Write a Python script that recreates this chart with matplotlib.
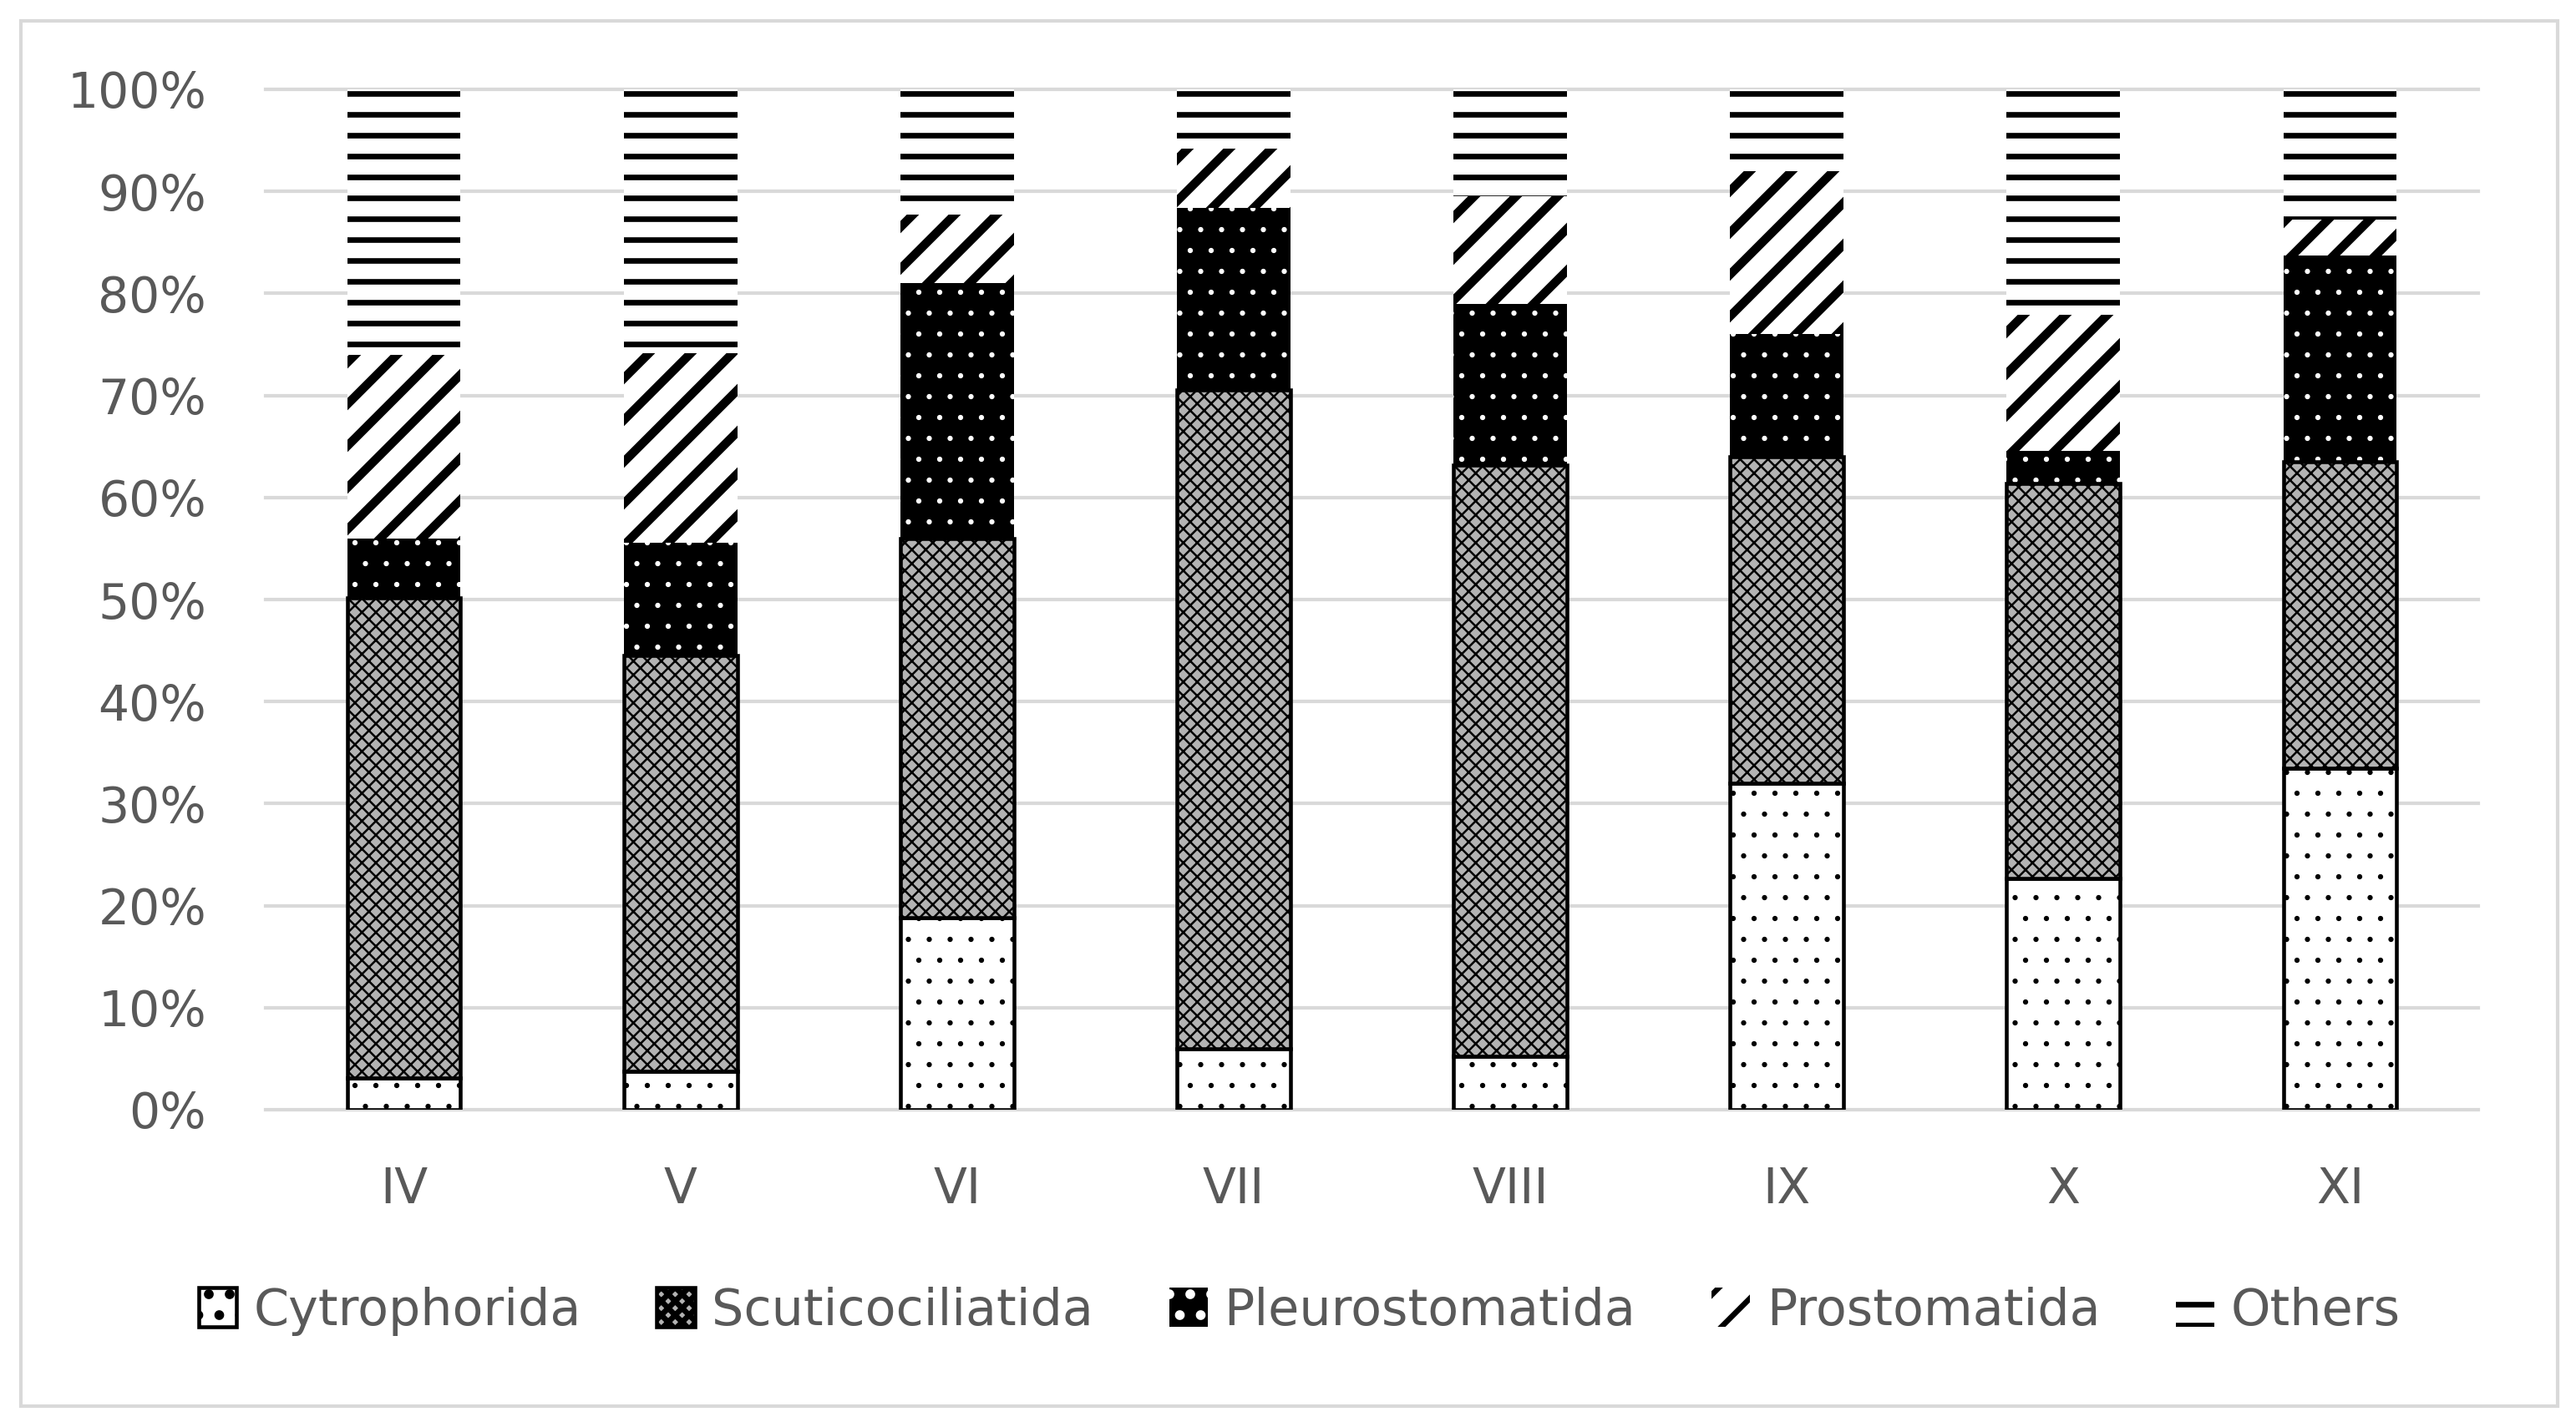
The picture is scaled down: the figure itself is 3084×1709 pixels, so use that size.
import numpy as np
import matplotlib.pyplot as plt
from matplotlib.patches import Patch, Rectangle
from matplotlib.legend_handler import HandlerTuple

months = ['IV', 'V', 'VI', 'VII', 'VIII', 'IX', 'X', 'XI']
cytrophorida = [3.1, 3.8, 18.8, 6.0, 5.2, 32.0, 22.7, 33.5]
scuticociliatida = [47.1, 40.7, 37.2, 64.5, 58.0, 32.0, 38.7, 30.0]
pleurostomatida = [5.8, 11.1, 25.0, 17.9, 15.8, 12.0, 3.2, 20.2]
prostomatida = [18.0, 18.5, 6.7, 5.8, 10.5, 16.0, 13.3, 3.5]
others = [26.0, 25.9, 12.3, 5.8, 10.5, 8.0, 22.1, 12.8]
labels = ['Cytrophorida', 'Scuticociliatida', 'Pleurostomatida', 'Prostomatida', 'Others']
yticks = [0, 10, 20, 30, 40, 50, 60, 70, 80, 90, 100]

gray = '#595959'
grid = '#d9d9d9'
scut_face = '#b3b3b3'


def hlw(artists, lw):
    # hatch line width per artist
    for a in artists:
        if hasattr(a, 'set_hatch_linewidth'):
            a.set_hatch_linewidth(lw)


fig = plt.figure(figsize=(3084 / 300, 1709 / 300), dpi=300)
ax = fig.add_axes([318 / 3084, 1 - 1329 / 1709, (2967 - 318) / 3084, (1329 - 107) / 1709])

x = np.arange(len(months))
w = 0.41
bottom = np.zeros(len(months))

plt.rcParams['hatch.linewidth'] = 0.3
b = ax.bar(x, cytrophorida, w, bottom=bottom, facecolor='white', edgecolor='black',
           linewidth=1.1, hatch='..', zorder=3)
hlw(b, 0.3)
bottom += cytrophorida

plt.rcParams['hatch.linewidth'] = 0.6
b = ax.bar(x, scuticociliatida, w, bottom=bottom, facecolor=scut_face, edgecolor='black',
           linewidth=1.1, hatch='xxxxxx', zorder=3)
hlw(b, 0.6)
bottom += scuticociliatida

ax.bar(x, pleurostomatida, w, bottom=bottom, facecolor='black', linewidth=0, zorder=2)
plt.rcParams['hatch.linewidth'] = 0.3
b = ax.bar(x, pleurostomatida, w, bottom=bottom, facecolor='none', edgecolor='white',
           linewidth=0, hatch='..', zorder=2)
hlw(b, 0.3)
bottom += pleurostomatida

plt.rcParams['hatch.linewidth'] = 2.5
b = ax.bar(x, prostomatida, w, bottom=bottom, facecolor='white', edgecolor='black',
           linewidth=0, hatch='//', zorder=2)
hlw(b, 2.5)
bottom += prostomatida

plt.rcParams['hatch.linewidth'] = 1.6
b = ax.bar(x, others, w, bottom=bottom, facecolor='white', edgecolor='black',
           linewidth=0, hatch='--', zorder=2)
hlw(b, 1.6)

ax.set_xlim(-0.5, len(months) - 0.5)
ax.set_ylim(0, 100)
ax.set_xticks(x)
ax.set_xticklabels(months)
ax.set_yticks(yticks)
ax.set_yticklabels([f'{v}%' for v in yticks])
ax.tick_params(axis='both', length=0, labelsize=14, labelcolor=gray)
ax.tick_params(axis='y', pad=17)
ax.tick_params(axis='x', pad=16)
ax.yaxis.grid(True, color=grid, linewidth=1.0, zorder=0)
for gl in ax.get_ygridlines():
    gl.set_clip_on(False)
ax.set_axisbelow(True)
for s in ax.spines.values():
    s.set_visible(False)

# legend
plt.rcParams['hatch.linewidth'] = 0.3
h1 = Patch(facecolor='white', edgecolor='black', linewidth=1.1, hatch='..')
plt.rcParams['hatch.linewidth'] = 0.6
h2 = Patch(facecolor=scut_face, edgecolor='black', linewidth=1.1, hatch='xxxxxx')
h3a = Patch(facecolor='black', linewidth=0)
plt.rcParams['hatch.linewidth'] = 0.3
h3b = Patch(facecolor='none', edgecolor='white', linewidth=0, hatch='..')
plt.rcParams['hatch.linewidth'] = 2.5
h4 = Patch(facecolor='white', edgecolor='black', linewidth=0, hatch='//')
plt.rcParams['hatch.linewidth'] = 1.6
h5 = Patch(facecolor='white', edgecolor='black', linewidth=0, hatch='--')
hlw([h1, h3b], 0.3)
hlw([h2], 0.6)
hlw([h4], 2.5)
hlw([h5], 1.6)

fig.legend([h1, h2, (h3a, h3b), h4, h5], labels, loc='center',
           bbox_to_anchor=(0.5045, 1 - 1570 / 1709), ncol=5, frameon=False,
           fontsize=14.5, labelcolor=gray, handlelength=0.76, handleheight=0.81,
           handletextpad=0.33, columnspacing=1.5,
           handler_map={tuple: HandlerTuple(ndivide=1)})

# outer chart border
fig.add_artist(Rectangle((25 / 3084, 1 - 1684 / 1709), (3062 - 25) / 3084, (1684 - 25) / 1709,
                         transform=fig.transFigure, fill=False, edgecolor=grid, linewidth=1.0))

fig.savefig('out.png', dpi=300)
